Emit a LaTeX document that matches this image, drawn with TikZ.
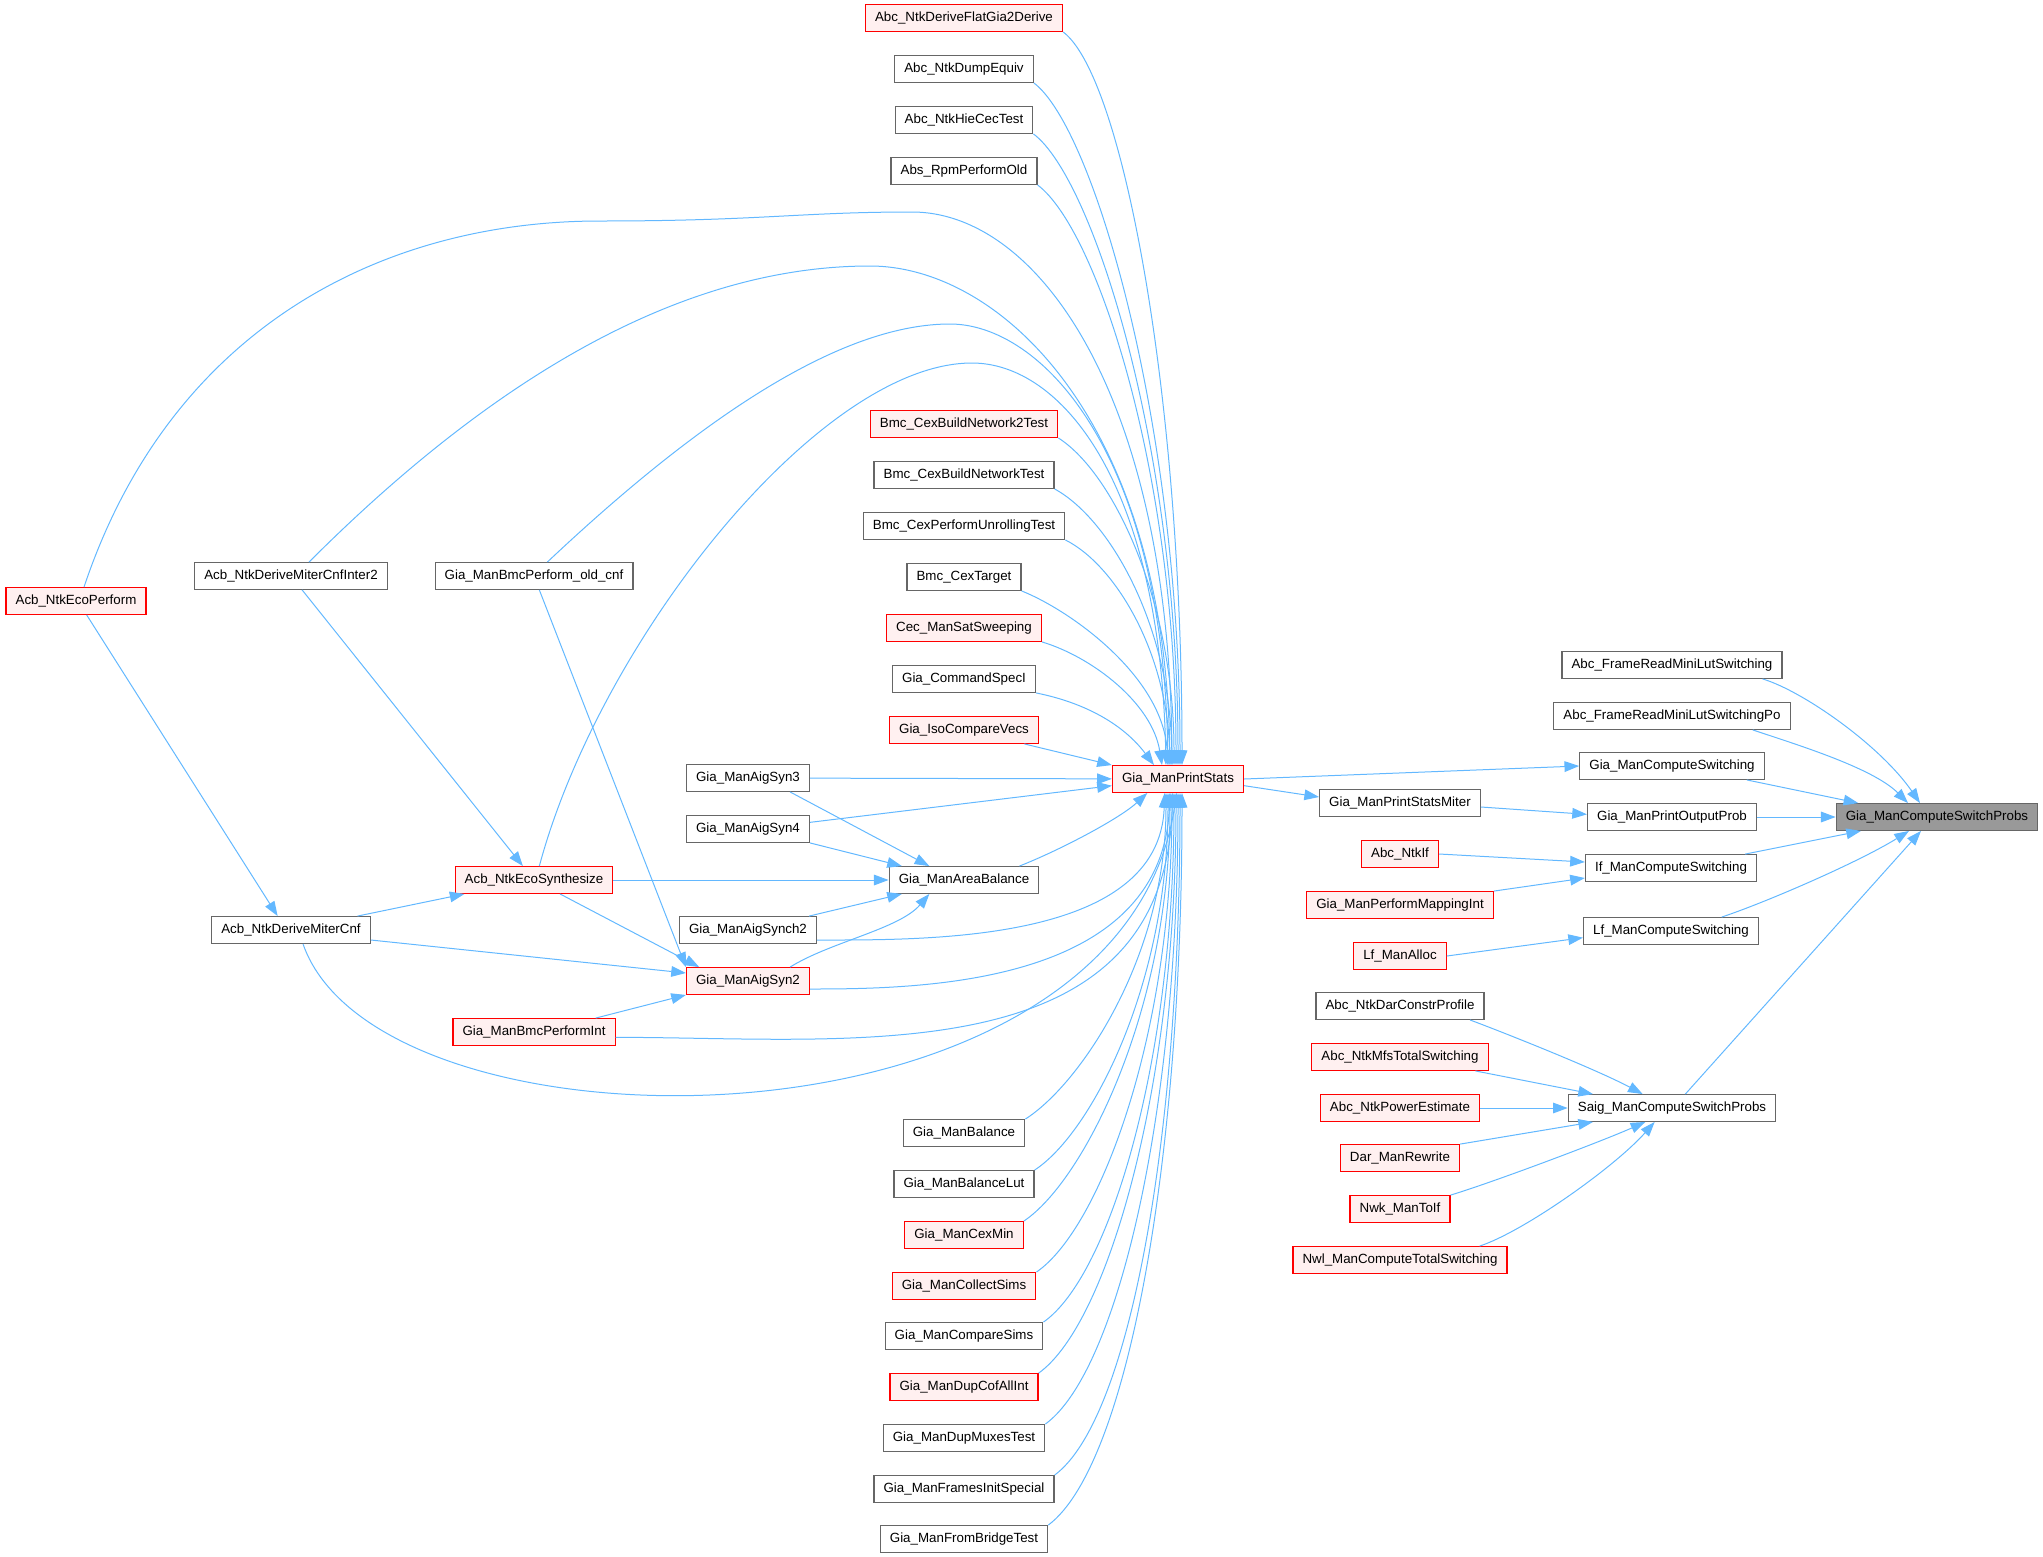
\documentclass[tikz,border=0pt]{standalone}
\usepackage{fontspec}
\setmainfont{Liberation Sans}
\usepackage{xcolor}
\usepackage{tikz}
\usetikzlibrary{arrows.meta}

\definecolor{edgeblue}{HTML}{63B8FF}
\definecolor{boxgray}{HTML}{666666}
\definecolor{rootgray}{HTML}{999999}
\definecolor{redfill}{HTML}{FFF0F0}

\begin{document}
\begin{tikzpicture}[
    x=0.75pt, y=-0.75pt,
    % Stili comuni per funzioni e chiamate del grafo.
    edge/.style={draw=edgeblue, line width=0.75pt, -{Triangle[length=11pt, width=8pt]}},
    every node/.style={font=\fontsize{10pt}{12pt}\selectfont},
    func/.style={rectangle, draw=boxgray, fill=white, line width=0.9pt, minimum height=20pt, inner xsep=7.2pt, inner ysep=0pt},
    red func/.style={func, draw=red, fill=redfill},
    root func/.style={func, fill=rootgray}
]
\useasboundingbox (0,0) rectangle (2043,1557);

% Funzione radice e chiamanti diretti.
\node[root func] (root) at (1937,817) {Gia\_ManComputeSwitchProbs};

\node[func] (readlut)   at (1672,665)  {Abc\_FrameReadMiniLutSwitching};
\node[func] (readlutpo) at (1672,716)  {Abc\_FrameReadMiniLutSwitchingPo};
\node[func] (compsw)    at (1672,766)  {Gia\_ManComputeSwitching};
\node[func] (outprob)   at (1672,817)  {Gia\_ManPrintOutputProb};
\node[func] (ifsw)      at (1671,868)  {If\_ManComputeSwitching};
\node[func] (lfsw)      at (1671,931)  {Lf\_ManComputeSwitching};
\node[func] (saig)      at (1672,1108) {Saig\_ManComputeSwitchProbs};

\node[func]     (miter)   at (1400,803)  {Gia\_ManPrintStatsMiter};
\node[red func] (ntkif)   at (1400,854)  {Abc\_NtkIf};
\node[red func] (mapint)  at (1400,905)  {Gia\_ManPerformMappingInt};
\node[red func] (lfalloc) at (1400,956)  {Lf\_ManAlloc};
\node[func]     (darcp)   at (1400,1006) {Abc\_NtkDarConstrProfile};
\node[red func] (mfs)     at (1400,1057) {Abc\_NtkMfsTotalSwitching};
\node[red func] (power)   at (1400,1108) {Abc\_NtkPowerEstimate};
\node[red func] (darrw)   at (1400,1158) {Dar\_ManRewrite};
\node[red func] (toif)    at (1400,1209) {Nwk\_ManToIf};
\node[red func] (nwl)     at (1400,1260) {Nwl\_ManComputeTotalSwitching};

\node[red func] (stats) at (1178,779) {Gia\_ManPrintStats};

% Colonna dei chiamanti di Gia_ManPrintStats.
\node[red func] (flat)    at (964,18)   {Abc\_NtkDeriveFlatGia2Derive};
\node[func]     (dump)    at (964,69)   {Abc\_NtkDumpEquiv};
\node[func]     (hie)     at (964,120)  {Abc\_NtkHieCecTest};
\node[func]     (rpm)     at (964,171)  {Abs\_RpmPerformOld};
\node[red func] (bmc2)    at (964,424)  {Bmc\_CexBuildNetwork2Test};
\node[func]     (bmcnet)  at (964,475)  {Bmc\_CexBuildNetworkTest};
\node[func]     (unroll)  at (964,526)  {Bmc\_CexPerformUnrollingTest};
\node[func]     (cextgt)  at (964,577)  {Bmc\_CexTarget};
\node[red func] (satsw)   at (964,628)  {Cec\_ManSatSweeping};
\node[func]     (specI)   at (964,679)  {Gia\_CommandSpecI};
\node[red func] (iso)     at (964,730)  {Gia\_IsoCompareVecs};
\node[func]     (areabal) at (964,880)  {Gia\_ManAreaBalance};
\node[func]     (bal)     at (964,1133) {Gia\_ManBalance};
\node[func]     (ballut)  at (964,1184) {Gia\_ManBalanceLut};
\node[red func] (cexmin)  at (964,1235) {Gia\_ManCexMin};
\node[red func] (collect) at (964,1286) {Gia\_ManCollectSims};
\node[func]     (compare) at (964,1336) {Gia\_ManCompareSims};
\node[red func] (dupcof)  at (964,1387) {Gia\_ManDupCofAllInt};
\node[func]     (dupmux)  at (964,1438) {Gia\_ManDupMuxesTest};
\node[func]     (frames)  at (964,1489) {Gia\_ManFramesInitSpecial};
\node[func]     (bridge)  at (964,1539) {Gia\_ManFromBridgeTest};

% Livelli piu' a sinistra.
\node[func]     (syn3)   at (748,778)  {Gia\_ManAigSyn3};
\node[func]     (syn4)   at (748,829)  {Gia\_ManAigSyn4};
\node[func]     (synch2) at (748,930)  {Gia\_ManAigSynch2};
\node[red func] (syn2)   at (748,981)  {Gia\_ManAigSyn2};

\node[func]     (oldcnf) at (534,576)  {Gia\_ManBmcPerform\_old\_cnf};
\node[red func] (ecosyn) at (534,880)  {Acb\_NtkEcoSynthesize};
\node[red func] (bmcint) at (534,1032) {Gia\_ManBmcPerformInt};

\node[func]     (inter2)   at (291,576) {Acb\_NtkDeriveMiterCnfInter2};
\node[func]     (mitercnf) at (291,930) {Acb\_NtkDeriveMiterCnf};
\node[red func] (ecoperf)  at (76,601)  {Acb\_NtkEcoPerform};

% Archi verso la radice.
\draw[edge] ([xshift=-15pt]readlut.south east) .. controls +(40,12) and +(-40,-58) .. ([xshift=-12.75pt]root.north);
\draw[edge] ([xshift=-28.5pt]readlutpo.south east) .. controls +(45,15) and +(-35,-35) .. ([xshift=-21.75pt]root.north);
\draw[edge] ([xshift=-13.5pt]compsw.south east) -- ([xshift=17pt]root.north west);
\draw[edge] (outprob) -- (root);
\draw[edge] ([xshift=-9pt]ifsw.north east) -- ([xshift=19pt]root.south west);
\draw[edge] ([xshift=38pt]lfsw.north) .. controls +(45,-15) and +(-50,31) .. ([xshift=-21pt]root.south);
\draw[edge] ([xshift=10pt]saig.north) -- ([xshift=-12pt]root.south);

% Archi della colonna intermedia.
\draw[edge] (stats.east) -- (compsw.west);
\draw[edge] ([yshift=-5pt]stats.east) -- ([yshift=4.5pt]miter.west);
\draw[edge] ([yshift=-3pt]miter.east) -- ([yshift=2pt]outprob.west);
\draw[edge] (ntkif.east) -- ([yshift=4.5pt]ifsw.west);
\draw[edge] (mapint.north east) -- ([yshift=-7.5pt]ifsw.west);
\draw[edge] (lfalloc.east) -- ([yshift=-5pt]lfsw.west);
\draw[edge] ([xshift=-11pt]darcp.south east) .. controls +(40,15) and +(-45,-24) .. ([xshift=-22pt]saig.north);
\draw[edge] ([xshift=-10pt]mfs.south east) -- ([xshift=19pt]saig.north west);
\draw[edge] (power) -- (saig);
\draw[edge] (darrw.north east) -- ([xshift=19pt]saig.south west);
\draw[edge] (toif.north east) .. controls +(40,-12) and +(-45,20) .. ([xshift=-20pt]saig.south);
\draw[edge] ([xshift=-21pt]nwl.north east) .. controls +(45,-15) and +(-40,45) .. ([xshift=-13pt]saig.south);

% Ventaglio superiore verso Gia_ManPrintStats.
\draw[edge] (flat.south east)   .. controls +(60,45) and +(0,-367) .. ([xshift=3pt]stats.north);
\draw[edge] (dump.south east)   .. controls +(60,45) and +(0,-340) .. ([xshift=1.5pt]stats.north);
\draw[edge] (hie.south east)    .. controls +(60,45) and +(0,-316) .. (stats.north);
\draw[edge] (rpm.south east)    .. controls +(60,45) and +(0,-290) .. ([xshift=-1.5pt]stats.north);
\draw[edge] (bmc2.south east)   .. controls +(55,35) and +(0,-164) .. ([xshift=-3pt]stats.north);
\draw[edge] (bmcnet.south east) .. controls +(55,30) and +(-2,-140) .. ([xshift=-4.5pt]stats.north);
\draw[edge] (unroll.south east) .. controls +(50,25) and +(-3,-113) .. ([xshift=-6pt]stats.north);
\draw[edge] (cextgt.south east) .. controls +(50,20) and +(-5,-88) .. ([xshift=-7.5pt]stats.north);
\draw[edge] (satsw.south east)  .. controls +(50,15) and +(-10,-62) .. ([xshift=-12pt]stats.north);
\draw[edge] (specI.south east)  .. controls +(50,10) and +(-30,-40) .. ([xshift=-18pt]stats.north);
\draw[edge] ([xshift=-11pt]iso.south east) -- (stats.north west);

% Archi lunghi che scavalcano la colonna.
\draw[edge] ([xshift=6pt]ecoperf.north) .. controls (170,330) and (380,221) .. (600,221)
    .. controls (760,221) and (800,212) .. (912,212)
    .. controls (1040,212) and (1170,400) .. ([xshift=-4.5pt]stats.north);
\draw[edge] ([xshift=13.5pt]inter2.north) .. controls (506,365) and (693,266) .. (870,266)
    .. controls (1000,266) and (1165,420) .. ([xshift=-6pt]stats.north);
\draw[edge] ([xshift=10pt]oldcnf.north) .. controls (715,404) and (849,324) .. (950,324)
    .. controls (1040,324) and (1163,450) .. ([xshift=-7.5pt]stats.north);
\draw[edge] ([xshift=4pt]ecosyn.north) .. controls (600,640) and (820,363) .. (972,363)
    .. controls (1060,363) and (1160,480) .. ([xshift=-9pt]stats.north);

% Ventaglio inferiore verso Gia_ManPrintStats.
\draw[edge] (bal.north east)     .. controls +(55,-35) and +(0,164) .. ([xshift=-9pt]stats.south);
\draw[edge] (ballut.north east)  .. controls +(58,-38) and +(0,189) .. ([xshift=-7.5pt]stats.south);
\draw[edge] (cexmin.north east)  .. controls +(61,-41) and +(0,215) .. ([xshift=-6pt]stats.south);
\draw[edge] (collect.north east) .. controls +(64,-44) and +(0,240) .. ([xshift=-4.5pt]stats.south);
\draw[edge] (compare.north east) .. controls +(67,-47) and +(0,265) .. ([xshift=-3pt]stats.south);
\draw[edge] (dupcof.north east)  .. controls +(70,-50) and +(0,290) .. ([xshift=-1.5pt]stats.south);
\draw[edge] (dupmux.north east)  .. controls +(73,-53) and +(0,316) .. (stats.south);
\draw[edge] (frames.north east)  .. controls +(76,-56) and +(0,341) .. ([xshift=1.5pt]stats.south);
\draw[edge] (bridge.north east)  .. controls +(80,-60) and +(0,366) .. ([xshift=3pt]stats.south);

\draw[edge] ([xshift=-15pt]areabal.north east) .. controls +(43,-17) and +(-27,25) .. ([xshift=-23pt]stats.south);
\draw[edge] ([yshift=-7.5pt]synch2.east) .. controls +(110,0) and +(-5,150) .. ([xshift=-10pt]stats.south);
\draw[edge] ([yshift=-6pt]syn2.east) .. controls +(110,0) and +(-8,193) .. ([xshift=-6pt]stats.south);
\draw[edge] ([yshift=-4pt]bmcint.east) .. controls +(236,0) and +(-8,283) .. ([xshift=-4pt]stats.south);
\draw[edge] ([xshift=9pt]mitercnf.south) .. controls (380,1165) and (1120,1165) .. ([xshift=-1pt]stats.south);

% Archi tra le sintesi e Gia_ManAreaBalance.
\draw[edge] (syn3) -- (stats);
\draw[edge] ([yshift=5pt]syn4.east) -- ([yshift=-5pt]stats.west);
\draw[edge] ([xshift=-15pt]syn3.south east) -- ([xshift=-26pt]areabal.north);
\draw[edge] (syn4.south east) -- ([xshift=10pt]areabal.north west);
\draw[edge] (ecosyn) -- (areabal);
\draw[edge] ([xshift=-6pt]synch2.north east) -- ([xshift=10pt]areabal.south west);
\draw[edge] ([xshift=-15pt]syn2.north east) .. controls +(40,-25) and +(-30,35) .. ([xshift=-26pt]areabal.south);

% Archi del ramo Acb.
\draw[edge] (inter2) -- (ecosyn);
\draw[edge] ([xshift=-10pt]mitercnf.north east) -- ([xshift=7.5pt]ecosyn.south west);
\draw[edge] ([yshift=-7.5pt]mitercnf.east) -- ([yshift=6pt]syn2.west);
\draw[edge] ([xshift=-15pt]bmcint.north east) -- (syn2.south west);
\draw[edge] ([xshift=19.5pt]ecosyn.south) -- ([xshift=10pt]syn2.north west);
\draw[edge] ([xshift=4pt]oldcnf.south) -- (syn2.north west);
\draw[edge] ([xshift=8pt]ecoperf.south) -- ([xshift=-10pt]mitercnf.north);
\end{tikzpicture}
\end{document}
